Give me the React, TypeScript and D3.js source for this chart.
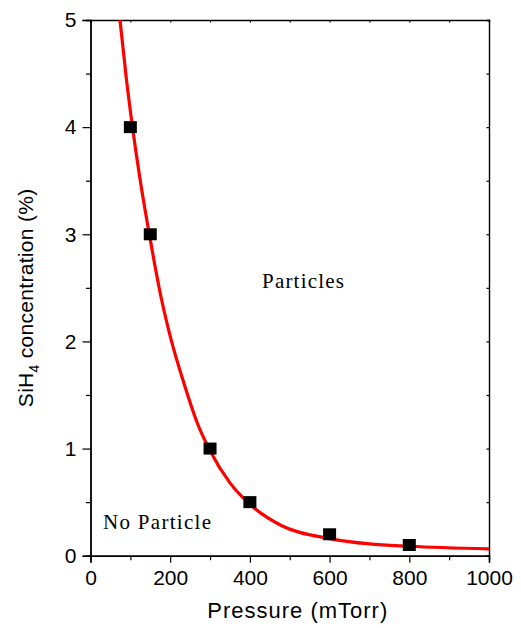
import React, { useEffect, useRef } from 'react';
import * as d3 from 'd3';

// measured points
const pointPressure = [100, 150, 300, 400, 600, 800];
const pointConc = [4, 3, 1, 0.5, 0.2, 0.1];

// fitted curve
const fitPressure = [74, 90, 100, 125, 150, 175, 200, 237, 270, 300, 350, 400, 480, 600, 700, 800, 1000];
const fitConc = [5.0, 4.45, 4.15, 3.5, 2.95, 2.45, 2.05, 1.58, 1.22, 0.98, 0.68, 0.48, 0.28, 0.16, 0.11, 0.088, 0.063];

const xMajor = [0, 200, 400, 600, 800, 1000];
const xMinor = [100, 300, 500, 700, 900];
const yMajor = [0, 1, 2, 3, 4, 5];
const yMinor = [0.5, 1.5, 2.5, 3.5, 4.5];

const W = 521;
const H = 628;
const margin = { top: 20, right: 32, bottom: 72.3, left: 90.5 };

const App = () => {
  const axesRef = useRef<SVGGElement>(null);

  const x = d3.scaleLinear().domain([0, 1000]).range([margin.left, W - margin.right]);
  const y = d3.scaleLinear().domain([0, 5]).range([H - margin.bottom, margin.top]);

  useEffect(() => {
    const g = d3.select(axesRef.current);
    g.selectAll('*').remove();
    const font = '"Liberation Sans", Arial, sans-serif';

    // bottom
    g.append('g')
      .attr('transform', `translate(0,${y(0)})`)
      .call(d3.axisBottom(x).tickValues(xMinor).tickSize(4.5).tickFormat(() => ''));
    g.append('g')
      .attr('transform', `translate(0,${y(0)})`)
      .call(d3.axisBottom(x).tickValues(xMajor).tickSize(7).tickPadding(7).tickFormat(d3.format('d')));
    // left
    g.append('g')
      .attr('transform', `translate(${x(0)},0)`)
      .call(d3.axisLeft(y).tickValues(yMinor).tickSize(4.5).tickFormat(() => ''));
    g.append('g')
      .attr('transform', `translate(${x(0)},0)`)
      .call(d3.axisLeft(y).tickValues(yMajor).tickSize(8).tickPadding(6).tickFormat(d3.format('d')));
    // top and right, small inward ticks
    g.append('g')
      .attr('transform', `translate(0,${y(5)})`)
      .call(d3.axisBottom(x).tickValues([...xMajor, ...xMinor]).tickSize(2.5).tickFormat(() => ''));
    g.append('g')
      .attr('transform', `translate(${x(1000)},0)`)
      .call(d3.axisLeft(y).tickValues([...yMajor, ...yMinor]).tickSize(2.5).tickFormat(() => ''));

    g.selectAll('.domain').attr('stroke', '#000').attr('stroke-width', 1.4);
    g.selectAll('.tick line').attr('stroke', '#000').attr('stroke-width', 1.2);
    g.selectAll('.tick text')
      .attr('fill', '#000')
      .style('font-family', font)
      .style('font-size', '21px');
  }, []);

  const line = d3
    .line<number>()
    .x((d) => x(d))
    .y((_, i) => y(fitConc[i]))
    .curve(d3.curveMonotoneX);

  return (
    <svg width={W} height={H} style={{ display: 'block' }}>
      <style>{`body{margin:0}`}</style>
      <rect width={W} height={H} fill="#fff" />
      <g ref={axesRef} />

      <path d={line(fitPressure) || ''} fill="none" stroke="#ff0000" strokeWidth={3.2} />

      {pointPressure.map((p, i) => (
        <rect
          key={p}
          x={x(p) - 6.5}
          y={y(pointConc[i]) - 6}
          width={13}
          height={12}
          fill="#000"
        />
      ))}

      <text
        x={262}
        y={287.5}
        fontFamily='"Liberation Serif", "Times New Roman", serif'
        fontSize={21}
        letterSpacing={1.2}
      >
        Particles
      </text>
      <text
        x={103}
        y={528.5}
        fontFamily='"Liberation Serif", "Times New Roman", serif'
        fontSize={21}
        letterSpacing={1.3}
      >
        No Particle
      </text>

      <text
        x={(x(0) + x(1000)) / 2 + 8}
        y={618}
        textAnchor="middle"
        fontFamily='"Liberation Sans", Arial, sans-serif'
        fontSize={22}
        letterSpacing={1}
      >
        Pressure (mTorr)
      </text>

      <text
        transform={`translate(33,${(y(0) + y(5)) / 2 + 10}) rotate(-90)`}
        textAnchor="middle"
        fontFamily='"Liberation Sans", Arial, sans-serif'
        fontSize={21}
        letterSpacing={0.3}
      >
        SiH
        <tspan fontSize={14} dy={6}>4</tspan>
        <tspan dy={-6}> concentration (%)</tspan>
      </text>
    </svg>
  );
};

export default App;
